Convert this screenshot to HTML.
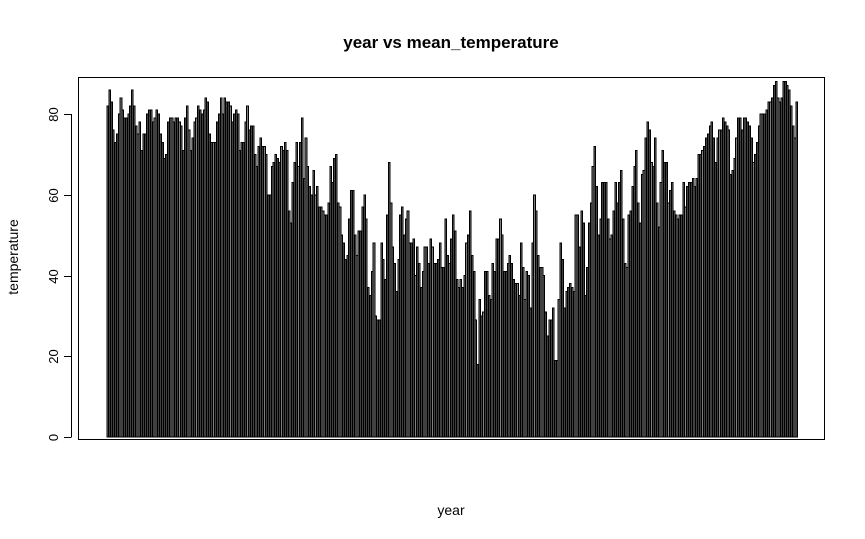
<!DOCTYPE html>
<html><head><meta charset="utf-8"><style>
body{margin:0;background:#fff;}
svg{display:block;font-family:"Liberation Sans",Arial,sans-serif;}
</style></head><body>
<svg id="chart" width="865" height="539">
<rect width="865" height="539" fill="#fff"/>
<text x="451" y="48" text-anchor="middle" font-size="17" font-weight="bold">year vs mean_temperature</text>
<text x="451" y="515" text-anchor="middle" font-size="14">year</text>
<text transform="translate(18,257) rotate(-90)" text-anchor="middle" font-size="14">temperature</text>
<rect x="78.5" y="77.5" width="746" height="362" fill="none" stroke="#000"/>
<g id="yaxis"></g>
<g id="bars" shape-rendering="crispEdges"></g>
</svg>
<script>
const yTicks=[0,20,40,60,80];
const yTickLabels=["0","20","40","60","80"];
const temps=[82,86,83,76,73,75,80,84,81,79,79,80,82,86,82,77,75,78,71,75,75,80,81,81,78,79,81,80,75,73,69,70,78,79,79,78,79,79,78,77,71,79,82,76,71,74,78,79,82,81,80,81,84,83,75,73,73,73,78,80,84,
80,84,83,83,82,78,80,81,80,71,73,73,78,82,76,77,77,70,67,72,74,72,72,70,60,60,67,68,70,69,68,72,71,73,71,56,53,63,68,73,67,73,79,64,74,67,62,60,66,60,62,57,57,56,55,55,58,67,63,69,70,58,
57,50,48,44,45,54,61,61,50,45,51,51,57,60,54,37,35,41,48,30,29,29,48,44,39,55,68,58,47,43,36,44,55,57,50,54,56,48,48,49,40,47,43,37,41,47,47,43,49,47,43,43,44,48,42,42,54,45,43,49,55,51,39,37,
39,37,40,48,50,56,45,41,29,18,34,30,31,41,41,35,34,43,41,49,49,54,50,41,41,43,45,43,39,38,38,35,48,42,34,41,40,32,48,60,56,45,42,42,40,31,25,29,29,32,19,19,34,48,44,32,36,37,38,37,36,55,
55,47,56,53,35,42,53,58,67,72,62,50,54,63,63,63,54,49,50,56,63,58,63,66,54,43,42,55,56,62,67,71,58,53,65,66,74,78,76,68,67,74,58,52,63,71,68,68,58,61,63,56,55,54,55,55,63,57,62,63,63,64,
62,64,70,70,71,72,74,75,77,78,74,68,74,76,76,79,78,77,76,65,66,69,74,79,79,76,79,79,78,77,74,68,70,73,77,80,80,80,81,83,83,84,87,88,84,83,84,88,88,87,86,82,77,74,83];
const NS="http://www.w3.org/2000/svg";
const x0=107,x1=798;
const pitch=(x1-x0)/temps.length;
function xScale(i){return x0+i*pitch;}
function yScale(v){return 437-v*(437-114)/80;}
const bars=document.getElementById('bars');
temps.forEach((v,i)=>{
  const r=document.createElementNS(NS,'rect');
  
  
  const x=xScale(i),y=yScale(v);
  r.setAttribute('x',x.toFixed(2));
  r.setAttribute('y',y.toFixed(2));
  r.setAttribute('width',(pitch/1.2).toFixed(2));
  r.setAttribute('height',(yScale(0)-y).toFixed(2));
  r.setAttribute('fill','#808080');
  r.setAttribute('stroke','#000');
  r.setAttribute('stroke-width','1');
  bars.appendChild(r);
});
const ya=document.getElementById('yaxis');
const ax=document.createElementNS(NS,'line');


ax.setAttribute('x1',71.5);ax.setAttribute('x2',71.5);
ax.setAttribute('y1',yScale(yTicks[0]));ax.setAttribute('y2',yScale(yTicks[yTicks.length-1]));
ax.setAttribute('stroke','#000');
ya.appendChild(ax);
yTicks.forEach((t,i)=>{
  const y=Math.round(yScale(t))+0.5;
  const l=document.createElementNS(NS,'line');
  
  
  l.setAttribute('x1',64);l.setAttribute('x2',71.5);l.setAttribute('y1',y);l.setAttribute('y2',y);
  l.setAttribute('stroke','#000');
  ya.appendChild(l);
  const tx=document.createElementNS(NS,'text');
  
  
  tx.setAttribute('transform','translate(58,'+y+') rotate(-90)');
  tx.setAttribute('text-anchor','middle');
  tx.setAttribute('font-size','13');
  tx.textContent=yTickLabels[i];
  ya.appendChild(tx);
});
</script>
</body></html>
